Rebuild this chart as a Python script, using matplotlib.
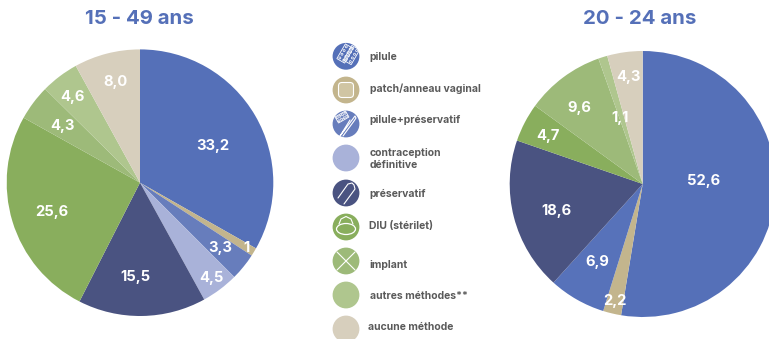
import matplotlib
matplotlib.use("Agg")
import matplotlib.pyplot as plt
from matplotlib.patches import Circle, Rectangle, FancyBboxPatch, Ellipse
from matplotlib.transforms import Affine2D

W, H = 769, 339

categories = ["pilule", "patch/anneau vaginal", "pilule+préservatif",
              "contraception\ndéfinitive", "préservatif", "DIU (stérilet)",
              "implant", "autres méthodes**", "aucune méthode"]
values_15_49 = [33.2, 1.0, 3.3, 4.5, 15.5, 25.6, 4.3, 4.6, 8.0]
labels_15_49 = ["33,2", "1", "3,3", "4,5", "15,5", "25,6", "4,3", "4,6", "8,0"]
values_20_24 = [52.6, 2.2, 6.9, 18.6, 4.7, 9.6, 1.1, 4.3]
labels_20_24 = ["52,6", "2,2", "6,9", "18,6", "4,7", "9,6", "1,1", "4,3"]

BLUE, TAN, BLUE2, LILAC, NAVY = "#5570B8", "#C3B58D", "#677DBC", "#A9B2D9", "#4A5381"
GREEN, GREEN2, GREEN3, BEIGE = "#89AE5D", "#9DBA79", "#AFC68E", "#D7CFBD"
colors_15_49 = [BLUE, TAN, BLUE2, LILAC, NAVY, GREEN, GREEN2, GREEN3, BEIGE]
colors_20_24 = [BLUE, TAN, "#5772BA", NAVY, GREEN, GREEN2, GREEN3, BEIGE]

# layout (pixels)
label_px_15_49 = [(213, 146), (247, 248), (220, 248), (211, 278), (135, 277), (52, 212), (62, 126), (72, 97), (116, 82)]
label_px_20_24 = [(704, 181), (615, 301), (597, 262), (556, 211), (548, 136), (579, 108), (620, 118), (628, 77)]
legend_y = [56.3, 90, 124, 158, 193, 227, 261, 295, 329]
legend_tx = [369.5, 369.5, 369.5, 369.5, 369.5, 369, 369, 369.5, 368.5]
legend_ty = [56.5, 88.5, 120, 158.5, 194, 226.5, 265, 296, 327.5]
legend_colors = [BLUE, TAN, BLUE2, LILAC, NAVY, GREEN, GREEN2, GREEN3, BEIGE]

fig = plt.figure(figsize=(W / 100, H / 100), dpi=100)
bg = fig.add_axes([0, 0, 1, 1], zorder=3)
bg.set_xlim(0, W); bg.set_ylim(H, 0); bg.axis("off")
bg.patch.set_alpha(0)


def pie(cx, cy, r, vals, cols):
    ax = fig.add_axes([(cx - r) / W, 1 - (cy + r) / H, 2 * r / W, 2 * r / H], zorder=1)
    ax.pie(vals, colors=cols, startangle=90, counterclock=False, radius=1,
           normalize=True, wedgeprops={"linewidth": 0}, frame=False)
    ax.set_xlim(-1, 1); ax.set_ylim(-1, 1); ax.set_aspect("equal")
    ax.set_clip_on(False)
    for p in ax.patches:
        p.set_clip_on(False)


pie(140, 182.7, 133.3, values_15_49, colors_15_49)
pie(642.7, 184, 133, values_20_24, colors_20_24)

LAB = dict(color="white", family="Inter", fontweight="bold", fontsize=10.6, ha="center", va="center")
for (x, y), s in zip(label_px_15_49, labels_15_49):
    bg.text(x, y, s, **LAB)
for (x, y), s in zip(label_px_20_24, labels_20_24):
    bg.text(x, y, s, **LAB)

TITLE = dict(color="#5570B8", family="Inter", fontweight="bold", fontsize=14.7, ha="center", va="center")
bg.text(139, 18.5, "15 - 49 ans", **TITLE)
bg.text(640, 19, "20 - 24 ans", **TITLE)

for y, ty, tx, col, name in zip(legend_y, legend_ty, legend_tx, legend_colors, categories):
    bg.add_patch(Circle((346, y), 13.4, fc=col, ec="none"))
    bg.text(tx, ty, name, color="#5A5A5A", family="Inter", fontweight="bold",
            fontsize=7.5, ha="left", va="center", linespacing=1.25)

LW = dict(color="white", lw=0.8, solid_capstyle="round")


def blister(cx, cy, w, h, ang):
    t = Affine2D().rotate_deg_around(cx, cy, ang) + bg.transData
    bg.add_patch(Rectangle((cx - w / 2, cy - h / 2), w, h, fc="none", ec="white", lw=0.6, transform=t))
    for i in range(4):
        for sx in (-1, 1):
            bg.add_patch(Circle((cx + sx * w / 4, cy - h / 2 + (i + 0.5) * h / 4), 1.0,
                                fc="none", ec="white", lw=0.5, transform=t))


# pilule
blister(345, 53.5, 9, 17, 30)
blister(351.5, 55, 9, 17, 30)
# patch
bg.add_patch(FancyBboxPatch((338.5, 82.5), 15, 15, boxstyle="round,pad=0,rounding_size=3.5",
                            fc="#D0C5A3", ec="white", lw=0.8))
# pilule + préservatif
blister(342, 117, 7, 12, 60)
bg.plot([343, 354, 356, 355, 344, 340, 350], [136, 121, 118, 116, 131, 136, 120], **LW)
# préservatif
bg.plot([338, 348, 352, 354, 355, 344], [198, 184, 183, 185, 189, 204], **LW)
# DIU
bg.add_patch(Ellipse((346, 229), 19, 11, fc="none", ec="white", lw=0.9))
bg.plot([339, 341, 346, 351, 353], [224, 219, 216.5, 219, 224], **LW)
# implant
bg.plot([337, 355], [252, 270], **LW)
bg.plot([355, 337], [252, 270], **LW)

fig.savefig("out.png", dpi=100)
